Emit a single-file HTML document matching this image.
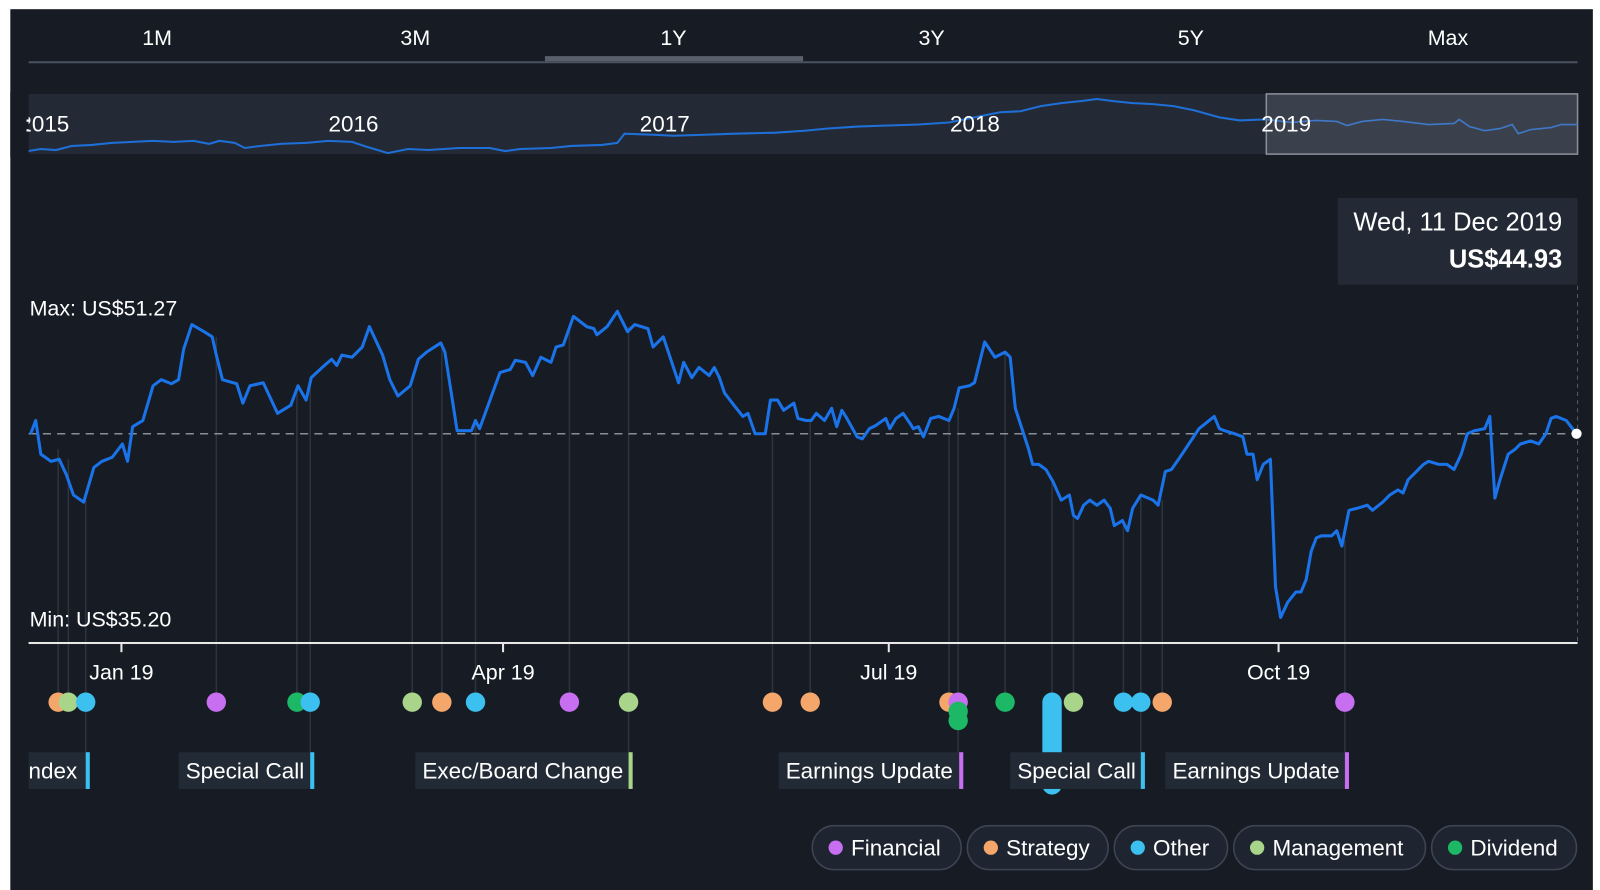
<!DOCTYPE html>
<html><head><meta charset="utf-8"><style>
html,body{margin:0;padding:0;background:#fff;width:1600px;height:890px;overflow:hidden}
svg{display:block}
text{font-family:"Liberation Sans",sans-serif;fill:#fff}
</style></head><body>
<svg width="1600" height="890" viewBox="0 0 1568 872" preserveAspectRatio="none">
<rect x="0" y="0" width="1568" height="872" fill="#ffffff"/>
<rect x="10" y="9" width="1551" height="870" fill="#161b24"/>
<!-- tabs -->
<g font-size="21" text-anchor="middle">
<text x="154" y="44">1M</text><text x="407" y="44">3M</text><text x="660" y="44">1Y</text>
<text x="913" y="44">3Y</text><text x="1167" y="44">5Y</text><text x="1419" y="44">Max</text>
</g>
<rect x="28" y="60" width="1518" height="2" fill="#4a5260"/>
<rect x="534" y="55" width="253" height="5" fill="#59606c"/>
<!-- navigator -->
<rect x="28" y="92" width="1518" height="59" fill="#232a35"/>
<polyline fill="none" stroke="#1f6fd8" stroke-width="2" points="28,148 40,146 55,147 70,143 90,142 110,140 130,139 150,138 170,139 190,138 205,141 215,138 230,140 240,145 255,143 275,141 300,140 322,138 345,139 360,144 380,150 400,146 420,147 450,145 480,145 495,148 510,146 540,145 560,143 590,142 605,140 612,131 640,132 660,133 690,132 720,131 760,130 790,128 810,126 840,124 870,123 900,122 930,120 950,116 980,110 1000,109 1020,104 1040,101 1060,99 1075,97 1090,99 1110,101 1130,102 1150,104 1170,108 1195,115 1215,118 1240,117"/>
<rect x="1241" y="92" width="305" height="59" fill="#3a414c" stroke="#8a909a" stroke-width="1.5"/>
<polyline fill="none" stroke="#3f78c8" stroke-width="1.6" points="1241,117 1265,120 1290,118 1310,119 1320,123 1335,119 1355,117 1375,119 1400,122 1425,121 1430,117 1440,124 1455,128 1470,126 1482,122 1488,131 1500,127 1520,125 1530,122 1546,122"/>
<g font-size="22">
<text x="19" y="129">2015</text><text x="322" y="129">2016</text><text x="627" y="129">2017</text><text x="931" y="129">2018</text><text x="1236" y="129">2019</text>
</g>
<rect x="0" y="90" width="28" height="64" fill="#161b24"/><rect x="0" y="0" width="10" height="872" fill="#ffffff"/>
<text x="24" y="129" font-size="22">:</text>
<!-- tooltip -->
<rect x="1311" y="194" width="235" height="85" fill="#232a35"/>
<text x="1531" y="226" font-size="25" text-anchor="end">Wed, 11 Dec 2019</text>
<text x="1531" y="262" font-size="25" font-weight="bold" text-anchor="end">US$44.93</text>
<line x1="1546" y1="280" x2="1546" y2="630" stroke="#555c66" stroke-dasharray="4,4"/>
<!-- event lines -->
<g stroke="#2e343e" stroke-width="1.5">
<line x1="57" y1="440" x2="57" y2="688"/><line x1="67" y1="450" x2="67" y2="688"/><line x1="84" y1="490" x2="84" y2="740"/>
<line x1="212" y1="330" x2="212" y2="688"/><line x1="291" y1="380" x2="291" y2="688"/><line x1="304" y1="370" x2="304" y2="740"/>
<line x1="404" y1="380" x2="404" y2="688"/><line x1="433" y1="340" x2="433" y2="688"/><line x1="466" y1="415" x2="466" y2="688"/>
<line x1="558" y1="320" x2="558" y2="688"/><line x1="616" y1="320" x2="616" y2="740"/>
<line x1="757" y1="425" x2="757" y2="688"/><line x1="794" y1="410" x2="794" y2="688"/>
<line x1="930" y1="410" x2="930" y2="688"/><line x1="939" y1="400" x2="939" y2="740"/>
<line x1="985" y1="345" x2="985" y2="688"/><line x1="1031" y1="470" x2="1031" y2="688"/><line x1="1052" y1="505" x2="1052" y2="688"/>
<line x1="1101" y1="510" x2="1101" y2="688"/><line x1="1118" y1="485" x2="1118" y2="740"/><line x1="1139" y1="490" x2="1139" y2="688"/>
<line x1="1318" y1="530" x2="1318" y2="740"/>
</g>
<!-- dashed ref -->
<line x1="28" y1="425" x2="1546" y2="425" stroke="#8a8f96" stroke-width="1.5" stroke-dasharray="8,6"/>
<!-- price -->
<polyline fill="none" stroke="#1a73e8" stroke-width="3" stroke-linejoin="round" points="30,425 35,412 40,445 50,452 58,450 65,465 72,485 82,492 92,458 100,452 110,448 120,435 125,452 130,418 140,412 150,378 158,372 168,376 175,372 180,342 188,318 200,325 208,330 212,348 218,372 232,376 238,395 245,378 258,375 272,405 285,397 292,378 300,392 305,370 318,358 325,352 330,358 335,348 345,350 350,345 355,340 362,320 375,348 382,372 390,388 402,378 410,352 418,345 432,336 436,345 448,422 462,422 466,412 470,420 478,398 490,365 500,362 505,353 515,355 522,368 530,350 540,355 545,340 552,338 562,310 575,320 582,322 585,328 595,320 605,305 615,325 622,318 635,322 640,340 650,330 660,360 665,375 670,355 678,370 685,360 695,368 700,360 705,370 710,385 720,398 728,408 733,405 740,425 750,425 755,392 762,392 768,402 778,395 782,410 790,412 795,412 800,405 808,412 815,400 820,418 825,402 830,410 840,428 845,430 852,420 858,417 868,410 872,420 878,410 885,405 892,415 895,420 900,418 905,428 912,410 920,408 930,412 935,400 940,380 950,378 955,375 965,335 975,350 985,345 990,350 995,400 1008,440 1012,455 1018,455 1025,460 1032,472 1040,490 1048,485 1052,505 1056,508 1062,495 1068,490 1075,495 1082,490 1088,498 1092,515 1100,510 1105,520 1110,498 1118,485 1130,490 1135,495 1142,462 1148,460 1155,450 1165,435 1175,420 1185,412 1190,408 1195,420 1200,422 1210,425 1218,428 1222,445 1228,445 1232,470 1238,455 1245,450 1250,575 1255,605 1262,590 1270,580 1275,580 1280,568 1285,540 1290,527 1295,525 1300,525 1305,525 1310,520 1315,535 1322,500 1330,498 1340,495 1345,500 1355,492 1362,485 1370,480 1375,483 1380,470 1388,462 1395,455 1400,452 1410,455 1418,455 1425,460 1432,445 1438,425 1445,422 1455,420 1460,408 1465,488 1470,470 1478,445 1485,440 1490,435 1500,432 1508,435 1515,425 1520,410 1525,408 1535,412 1545,425"/>
<circle cx="1545" cy="425" r="5" fill="#fff"/>
<text x="29" y="309" font-size="21">Max: US$51.27</text>
<text x="29" y="614" font-size="21">Min: US$35.20</text>
<!-- axis -->
<rect x="28" y="629" width="1518" height="2" fill="#e8e8e8"/>
<g stroke="#e8e8e8" stroke-width="2">
<line x1="119" y1="630" x2="119" y2="639"/><line x1="493" y1="630" x2="493" y2="639"/><line x1="871" y1="630" x2="871" y2="639"/><line x1="1253" y1="630" x2="1253" y2="639"/>
</g>
<g font-size="21" text-anchor="middle">
<text x="119" y="666">Jan 19</text><text x="493" y="666">Apr 19</text><text x="871" y="666">Jul 19</text><text x="1253" y="666">Oct 19</text>
</g>
<!-- dots -->
<g>
<circle cx="57" cy="688" r="9.5" fill="#f5a66a"/><circle cx="67" cy="688" r="9.5" fill="#a8d58a"/><circle cx="84" cy="688" r="9.5" fill="#3cc0f0"/>
<circle cx="212" cy="688" r="9.5" fill="#c86ef0"/>
<circle cx="291" cy="688" r="9.5" fill="#1cb866"/><circle cx="304" cy="688" r="9.5" fill="#3cc0f0"/>
<circle cx="404" cy="688" r="9.5" fill="#a8d58a"/><circle cx="433" cy="688" r="9.5" fill="#f5a66a"/><circle cx="466" cy="688" r="9.5" fill="#3cc0f0"/>
<circle cx="558" cy="688" r="9.5" fill="#c86ef0"/><circle cx="616" cy="688" r="9.5" fill="#a8d58a"/>
<circle cx="757" cy="688" r="9.5" fill="#f5a66a"/><circle cx="794" cy="688" r="9.5" fill="#f5a66a"/>
<circle cx="930" cy="688" r="9.5" fill="#f5a66a"/><circle cx="939" cy="688" r="9.5" fill="#c86ef0"/><circle cx="939" cy="697" r="9.5" fill="#1cb866"/><circle cx="939" cy="706" r="9.5" fill="#1cb866"/>
<circle cx="985" cy="688" r="9.5" fill="#1cb866"/>
<rect x="1021.5" y="678.5" width="19" height="100" rx="9.5" fill="#3cc0f0"/>
<circle cx="1052" cy="688" r="9.5" fill="#a8d58a"/>
<circle cx="1101" cy="688" r="9.5" fill="#3cc0f0"/><circle cx="1118" cy="688" r="9.5" fill="#3cc0f0"/><circle cx="1139" cy="688" r="9.5" fill="#f5a66a"/>
<circle cx="1318" cy="688" r="9.5" fill="#c86ef0"/>
</g>
<!-- event labels -->
<g font-size="22">
<rect x="28" y="737" width="57" height="36" fill="#222a35"/><rect x="84" y="737" width="4" height="36" fill="#3cc0f0"/><text x="28" y="763">ndex</text>
<rect x="175" y="737" width="130" height="36" fill="#222a35"/><rect x="304" y="737" width="4" height="36" fill="#3cc0f0"/><text x="182" y="763">Special Call</text>
<rect x="407" y="737" width="210" height="36" fill="#222a35"/><rect x="616" y="737" width="4" height="36" fill="#a8d58a"/><text x="414" y="763">Exec/Board Change</text>
<rect x="763" y="737" width="178" height="36" fill="#222a35"/><rect x="940" y="737" width="4" height="36" fill="#c86ef0"/><text x="770" y="763">Earnings Update</text>
<rect x="990" y="737" width="129" height="36" fill="#222a35"/><rect x="1118" y="737" width="4" height="36" fill="#3cc0f0"/><text x="997" y="763">Special Call</text>
<rect x="1142" y="737" width="177" height="36" fill="#222a35"/><rect x="1318" y="737" width="4" height="36" fill="#c86ef0"/><text x="1149" y="763">Earnings Update</text>
</g>
<!-- legend -->
<g font-size="22" stroke-width="1.5">
<rect x="796" y="809" width="146" height="43" rx="21.5" fill="#1e2530" stroke="#3d4553"/><circle cx="819" cy="830.5" r="7" fill="#c86ef0"/><text x="834" y="838">Financial</text>
<rect x="948" y="809" width="138" height="43" rx="21.5" fill="#1e2530" stroke="#3d4553"/><circle cx="971" cy="830.5" r="7" fill="#f5a66a"/><text x="986" y="838">Strategy</text>
<rect x="1092" y="809" width="111" height="43" rx="21.5" fill="#1e2530" stroke="#3d4553"/><circle cx="1115" cy="830.5" r="7" fill="#3cc0f0"/><text x="1130" y="838">Other</text>
<rect x="1209" y="809" width="188" height="43" rx="21.5" fill="#1e2530" stroke="#3d4553"/><circle cx="1232" cy="830.5" r="7" fill="#a8d58a"/><text x="1247" y="838">Management</text>
<rect x="1403" y="809" width="142" height="43" rx="21.5" fill="#1e2530" stroke="#3d4553"/><circle cx="1426" cy="830.5" r="7" fill="#1cb866"/><text x="1441" y="838">Dividend</text>
</g>
</svg>
</body></html>
